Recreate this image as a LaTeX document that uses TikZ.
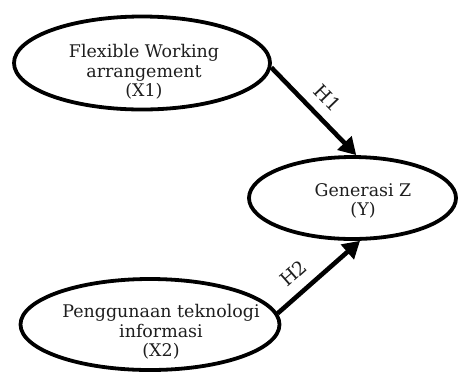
\documentclass[tikz,border=0pt]{standalone}
\usepackage{fontspec}
\setmainfont{DejaVu Serif}
\usepackage{tikz}
\usetikzlibrary{arrows.meta, shapes}
\definecolor{tinta}{RGB}{30, 30, 30}
\tikzset{
    var/.style={draw, ellipse, line width=3.8bp, inner sep=0pt},
    varTxt/.style={align=center, text=tinta, font=\fontsize{17.5}{19.5}\selectfont},
    conn/.style={-{Triangle[length=17bp,width=19bp]}, line width=4.6bp},
    hyp/.style={text=tinta, font=\fontsize{19}{20}\selectfont, sloped, above=7bp},
}
\begin{document}
\begin{tikzpicture}[x=1bp, y=-1bp]
        \useasboundingbox (0,0) rectangle (459,376);

        \node [var, minimum width=256bp, minimum height=93bp] (x1) at (142,63) {};
        \node [varTxt] (x1txt) at (144,72) {Flexible Working\\arrangement\\(X1)};

        \node [var, minimum width=207bp, minimum height=82bp] (y) at (352.5,198) {};
        \node [varTxt] (ytxt) at (363,201) {Generasi Z\\(Y)};

        \node [var, minimum width=259bp, minimum height=91bp] (x2) at (150,324.5) {};
        \node [varTxt] (x2txt) at (161,332) {Penggunaan teknologi\\informasi\\(X2)};

        \draw [conn] (x1.-2) -- node [hyp, pos=0.5] (h1) {H1} (y.85);
        \draw [conn] (x2.5) -- node [hyp, pos=0.35] (h2) {H2} (y.-80);
    \end{tikzpicture}
\end{document}
